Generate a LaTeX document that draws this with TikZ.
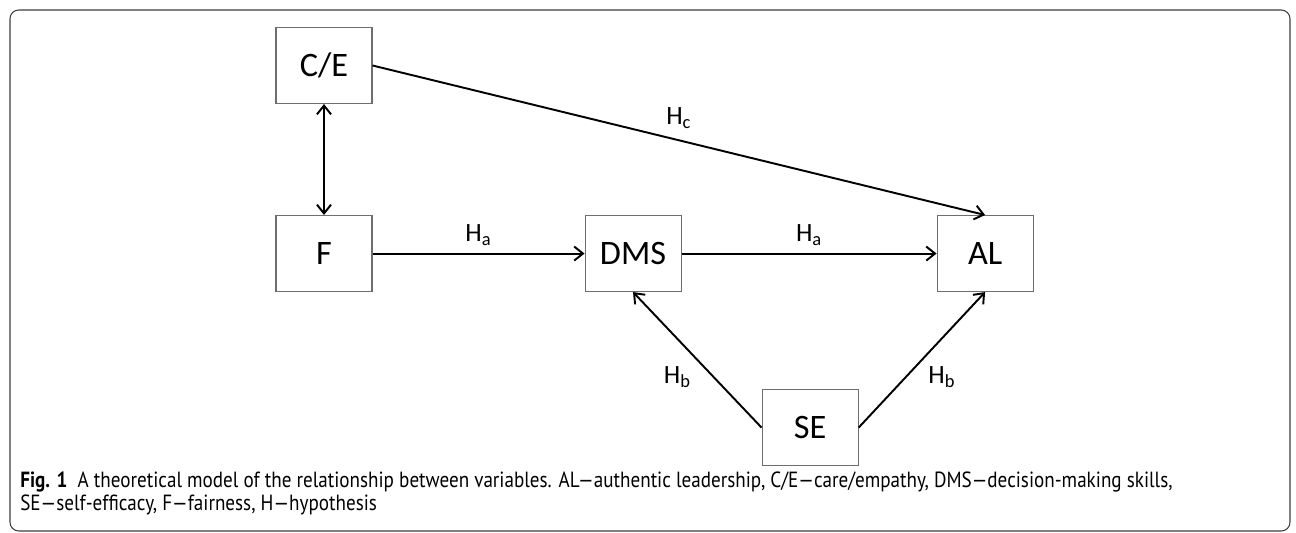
\documentclass[tikz,border=0pt]{standalone}
\usepackage{fontspec}
\setmainfont{Carlito}
\newfontfamily\capfont[FakeStretch=0.87]{PT Sans}
\usepackage{xcolor}
\usepackage{tikz}
\usetikzlibrary{positioning}
\usetikzlibrary{arrows.meta}
\definecolor{boxgray}{RGB}{110,110,110}
\definecolor{framegray}{RGB}{60,60,60}
\tikzset{
	>={Straight Barb[length=5pt,width=8pt]},
	varnode/.style = {shape=rectangle,
		draw=boxgray, line width=0.6pt, align=center,
		minimum width=1.92cm, minimum height=1.52cm, inner sep=0pt,
		font=\fontsize{19.5}{22}\selectfont},
	link/.style    = {draw, line width=1.1pt, ->},
	hyp/.style     = {font=\fontsize{15}{17}\selectfont, inner sep=1pt},
	capline/.style = {anchor=base west, inner sep=0pt,
		font=\capfont\fontsize{12.5}{13}\selectfont}
}

\begin{document}
\begin{tikzpicture}
\useasboundingbox (0,0) rectangle (25.92,-10.66);
\draw[framegray, line width=0.6pt, rounded corners=5pt] (0.2,-0.2) rectangle (25.8,-10.62);

% variables
\node [varnode] (ce) at (6.48,-1.31) {C/E};
\node [varnode, below=2.22cm of ce] (f) {F};
\node [varnode, right=4.24cm of f] (dms) {DMS};
\node [varnode, right=5.1cm of dms] (al) {AL};
\node [varnode, below right=1.94cm and 1.6cm of dms] (se) {SE};

% hypotheses
\draw [link, <->] (ce) -- (f);
\draw [link] (f) -- node [hyp, above=3pt] {H\textsubscript{a}} (dms);
\draw [link] (dms) -- node [hyp, above=3pt] {H\textsubscript{a}} (al);
\draw [link] (ce.east) -- node [hyp, above=5pt] {H\textsubscript{c}} (al.north);
\draw [link] (se.west) -- node [hyp, below left=3pt] {H\textsubscript{b}} (dms.south);
\draw [link] (se.east) -- node [hyp, below right=3pt] {H\textsubscript{b}} (al.south);

% caption
\node [capline] (capone) at (0.4,-9.74)
  {\textbf{Fig. 1}\ \ A theoretical model of the relationship between variables. AL—authentic leadership, C/E—care/empathy, DMS—decision-making skills,};
\node [capline] (captwo) at (0.4,-10.2)
  {SE—self-efficacy, F—fairness, H—hypothesis};
\end{tikzpicture}
\end{document}
